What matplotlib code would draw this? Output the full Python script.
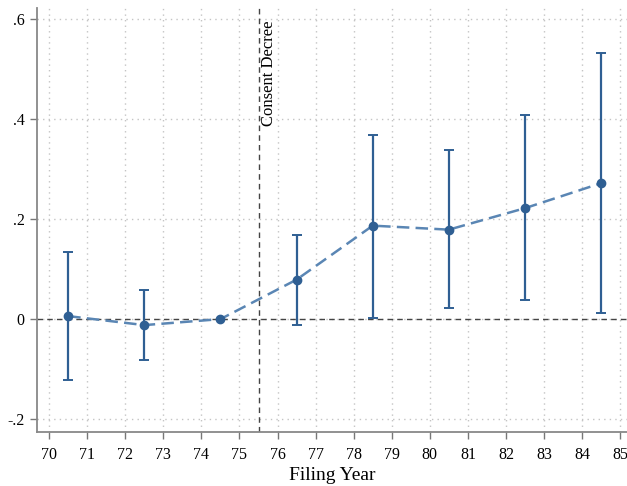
import matplotlib
matplotlib.use("Agg")
import matplotlib.pyplot as plt
import numpy as np

years = [70.5, 72.5, 74.5, 76.5, 78.5, 80.5, 82.5, 84.5]
coef = [0.006, -0.012, 0.0, 0.079, 0.187, 0.179, 0.222, 0.272]
ci_low = [-0.121, -0.081, 0.0, -0.012, 0.002, 0.022, 0.038, 0.012]
ci_high = [0.135, 0.058, 0.0, 0.169, 0.369, 0.339, 0.409, 0.532]
xticks = list(range(70, 86))
yticks = [-0.2, 0, 0.2, 0.4, 0.6]
ytick_labels = ["-.2", "0", ".2", ".4", ".6"]

plt.rcParams['font.family'] = ['Liberation Serif', 'DejaVu Serif']

fig = plt.figure(figsize=(6.27, 4.86), dpi=100)
ax = fig.add_axes([0.059, 0.111, 0.941, 0.872])

dark = "#2f5f93"
light = "#5a86b4"

ax.plot(years, coef, linestyle=(0, (5, 2.5)), color=light, lw=1.8, zorder=3)
has_ci = [i for i in range(len(years)) if ci_high[i] != ci_low[i]]
ax.errorbar([years[i] for i in has_ci], [coef[i] for i in has_ci],
            yerr=[[coef[i] - ci_low[i] for i in has_ci], [ci_high[i] - coef[i] for i in has_ci]],
            fmt="none", ecolor=dark, elinewidth=1.6, capsize=3.5, capthick=1.4, zorder=4)
ax.plot(years, coef, "o", color=dark, ms=6, zorder=5)

ax.axhline(0, color="#444444", ls=(0, (4, 3)), lw=1.0, zorder=2)
ax.axvline(75.5, color="#444444", ls=(0, (4, 3)), lw=1.0, zorder=2)
ax.text(75.78, 0.598, "Consent Decree", rotation=90, ha="center", va="top", fontsize=12)

ax.set_xlim(69.68, 85.18)
ax.set_ylim(-0.226, 0.622)
ax.set_xticks(xticks)
ax.set_yticks(yticks)
ax.set_yticklabels(ytick_labels)
ax.tick_params(axis="both", colors="#777777", labelcolor="black", labelsize=11.5, length=5, width=1)
ax.tick_params(axis="x", pad=6)
ax.tick_params(axis="y", pad=4)
ax.grid(True, color="#c4c4c4", ls=(0, (1, 3)), lw=1.0)
ax.set_axisbelow(True)
for s in ["top", "right"]:
    ax.spines[s].set_visible(False)
for s in ["left", "bottom"]:
    ax.spines[s].set_color("#888888")
    ax.spines[s].set_linewidth(1.3)
ax.set_xlabel("Filing Year", fontsize=14, labelpad=3)

fig.savefig("out.png", dpi=100)
